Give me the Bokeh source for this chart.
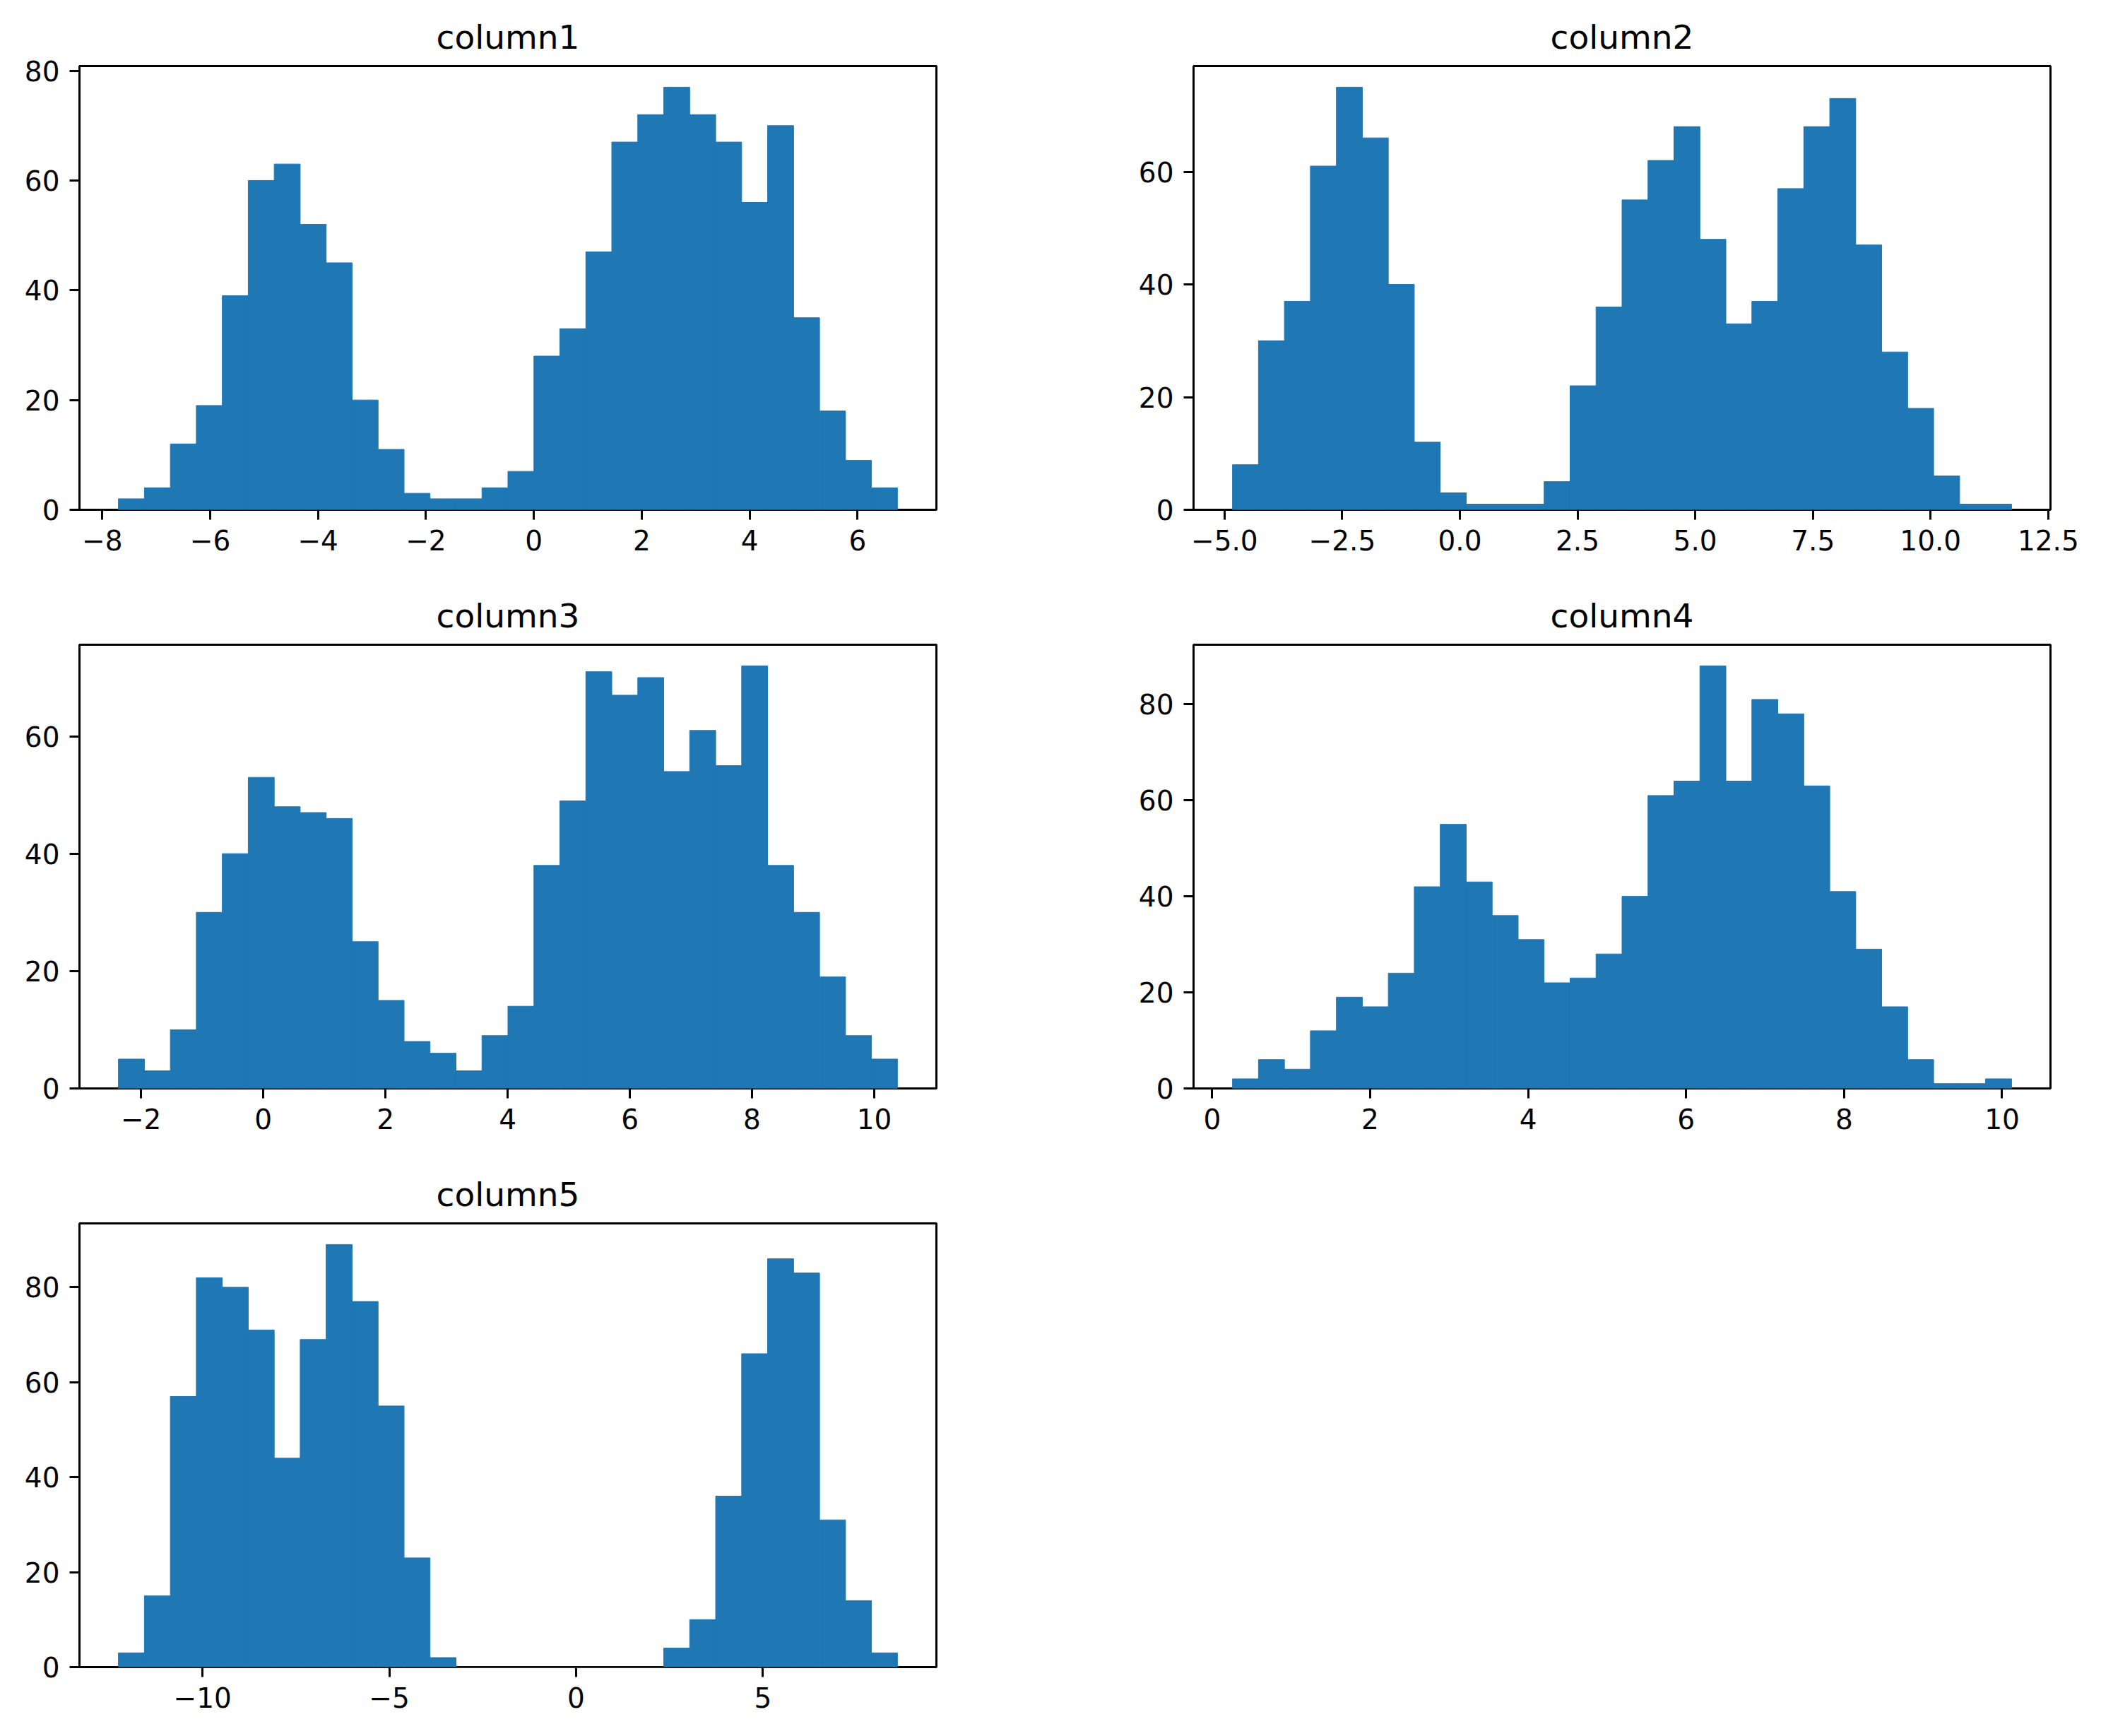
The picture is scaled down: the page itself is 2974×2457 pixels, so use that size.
import numpy as np
from bokeh.plotting import figure
from bokeh.layouts import gridplot
from bokeh.models import Range1d, FixedTicker, CustomJSTickFormatter
from bokeh.embed import file_html
from bokeh.resources import INLINE

# ---- data (counts, 30 bins per column) ----
titles = ["column1", "column2", "column3", "column4", "column5"]

counts1 = [2, 4, 12, 19, 39, 60, 63, 52, 45, 20, 11, 3, 2, 2, 4, 7, 28, 33, 47, 67,
           72, 77, 72, 67, 56, 70, 35, 18, 9, 4]
counts2 = [8, 30, 37, 61, 75, 66, 40, 12, 3, 1, 1, 1, 5, 22, 36, 55, 62, 68, 48, 33,
           37, 57, 68, 73, 47, 28, 18, 6, 1, 1]
counts3 = [5, 3, 10, 30, 40, 53, 48, 47, 46, 25, 15, 8, 6, 3, 9, 14, 38, 49, 71, 67,
           70, 54, 61, 55, 72, 38, 30, 19, 9, 5]
counts4 = [2, 6, 4, 12, 19, 17, 24, 42, 55, 43, 36, 31, 22, 23, 28, 40, 61, 64, 88, 64,
           81, 78, 63, 41, 29, 17, 6, 1, 1, 2]
counts5 = [3, 15, 57, 82, 80, 71, 44, 69, 89, 77, 55, 23, 2, 0, 0, 0, 0, 0, 0, 0,
           0, 4, 10, 36, 66, 86, 83, 31, 14, 3]

# histogram data range (min, max of each column)
data_min = [-7.70, -4.83, -2.37, 0.258, -12.25]
data_max = [6.74, 11.72, 10.38, 10.12, 8.60]

# tick labels
xticks1 = [-8, -6, -4, -2, 0, 2, 4, 6]
xticks2 = [-5.0, -2.5, 0.0, 2.5, 5.0, 7.5, 10.0, 12.5]
xticks3 = [-2, 0, 2, 4, 6, 8, 10]
xticks4 = [0, 2, 4, 6, 8, 10]
xticks5 = [-10, -5, 0, 5]
xdecimals = [0, 1, 0, 0, 0]
yticks = [0, 20, 40, 60, 80]

all_counts = [counts1, counts2, counts3, counts4, counts5]
all_xticks = [xticks1, xticks2, xticks3, xticks4, xticks5]

BAR = "#1f77b4"
FONT = "DejaVu Sans"
TICK_FS = "39px"
TITLE_FS = "47px"

FRAME_W = 1213
FRAME_H = 628

# borders per column / row (position frames like the reference)
col_borders = [(112, 20), (344, 50)]
row_borders = [(93, 106), (85, 106), (85, 80)]


def fmt(dec):
    return CustomJSTickFormatter(
        code="var s = Math.abs(tick).toFixed(%d); return (tick < -1e-9 ? '\\u2212' : '') + s;" % dec
    )


def make(i):
    counts = np.array(all_counts[i], dtype=float)
    edges = np.linspace(data_min[i], data_max[i], len(counts) + 1)
    span = edges[-1] - edges[0]
    xr = Range1d(edges[0] - 0.05 * span, edges[-1] + 0.05 * span)
    yr = Range1d(0, counts.max() * 1.05)
    c = i % 2
    r = i // 2
    p = figure(
        frame_width=FRAME_W, frame_height=FRAME_H,
        x_range=xr, y_range=yr,
        output_backend="svg", toolbar_location=None,
        min_border_left=col_borders[c][0], min_border_right=col_borders[c][1],
        min_border_top=row_borders[r][0], min_border_bottom=row_borders[r][1],
        title=titles[i],
    )
    p.quad(left=edges[:-1], right=edges[1:], bottom=0, top=counts,
           fill_color=BAR, line_color=BAR, line_width=1)
    p.grid.visible = False
    p.background_fill_color = "white"
    p.border_fill_color = "white"
    p.outline_line_color = "black"
    p.outline_line_width = 3
    p.outline_line_alpha = 1.0

    p.title.align = "center"
    p.title.text_font = FONT
    p.title.text_font_size = TITLE_FS
    p.title.text_font_style = "normal"
    p.title.text_color = "black"
    p.title.standoff = 27

    for ax in (p.xaxis[0], p.yaxis[0]):
        ax.axis_line_color = None
        ax.major_tick_line_color = "black"
        ax.major_tick_line_width = 3
        ax.major_tick_out = 14
        ax.major_tick_in = 0
        ax.minor_tick_line_color = None
        ax.major_label_text_font = FONT
        ax.major_label_text_font_size = TICK_FS
        ax.major_label_text_color = "black"
        ax.major_label_standoff = 14

    p.xaxis[0].ticker = FixedTicker(ticks=all_xticks[i])
    p.xaxis[0].formatter = fmt(xdecimals[i])
    p.yaxis[0].ticker = FixedTicker(ticks=yticks)
    p.yaxis[0].formatter = fmt(0)
    return p


plots = [make(i) for i in range(5)]
grid = gridplot([[plots[0], plots[1]], [plots[2], plots[3]], [plots[4], None]],
                toolbar_location=None)

open("out.html", "w").write(file_html(grid, INLINE))
